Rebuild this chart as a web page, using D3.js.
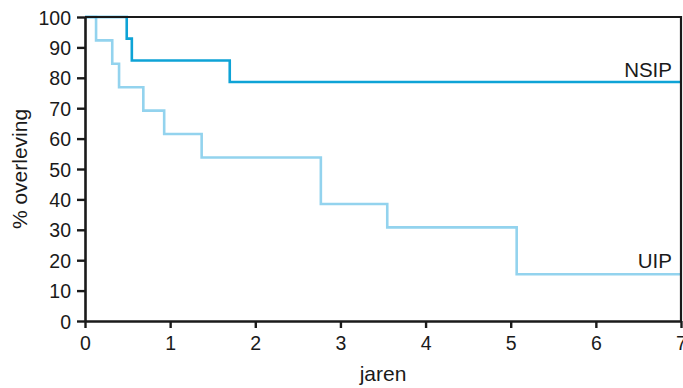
<!DOCTYPE html>
<html>
<head>
<meta charset="utf-8">
<script src="https://cdn.jsdelivr.net/npm/d3@7"></script>
<style>
  body { margin: 0; background: #fff; }
  text { font-family: "Liberation Sans", Arial, sans-serif; fill: #1a1a1a; }
</style>
</head>
<body>
<svg id="chart"></svg>
<script>
// Kaplan-Meier survival (years, % surviving)
const nsipTimes = [0, 0.49, 0.55, 1.70, 7];
const nsipSurv  = [100, 92.9, 85.7, 78.6, 78.6];

const uipTimes = [0, 0.13, 0.32, 0.40, 0.685, 0.93, 1.37, 2.77, 3.55, 5.07, 7];
const uipSurv  = [100, 92.3, 84.6, 76.9, 69.2, 61.5, 53.8, 38.5, 30.8, 15.4, 15.4];

const xTicks = [0, 1, 2, 3, 4, 5, 6, 7];
const yTicks = [0, 10, 20, 30, 40, 50, 60, 70, 80, 90, 100];

const width = 683, height = 388;
const margin = {top: 17, right: 2, bottom: 67, left: 85};
const w = width - margin.left - margin.right;
const h = height - margin.top - margin.bottom;

const svg = d3.select('#chart')
    .attr('width', width)
    .attr('height', height);

const chart = svg.append('g')
    .attr('transform', `translate(${margin.left},${margin.top})`);

const x = d3.scaleLinear().domain([0, 7]).range([0, w]);
const y = d3.scaleLinear().domain([0, 100]).range([h, 0]);

const line = d3.line()
    .x(d => x(d[0]))
    .y(d => y(d[1]))
    .curve(d3.curveStepAfter);

const series = [
  {name: 'UIP', times: uipTimes, surv: uipSurv, color: '#93d3ee'},
  {name: 'NSIP', times: nsipTimes, surv: nsipSurv, color: '#0ea3d6'}
];

series.forEach(s => {
  chart.append('path')
      .datum(d3.zip(s.times, s.surv))
      .attr('fill', 'none')
      .attr('stroke', s.color)
      .attr('stroke-width', 2.6)
      .attr('d', line);
});

// frame on top and right
chart.append('path')
    .attr('d', `M0,${y(100)}H${x(7)}V${y(0)}`)
    .attr('fill', 'none')
    .attr('stroke', '#1a1a1a')
    .attr('stroke-width', 2.2);

const xAxis = d3.axisBottom(x).tickValues(xTicks).tickFormat(d3.format('d'))
    .tickSize(7).tickPadding(8).tickSizeOuter(0);
const yAxis = d3.axisLeft(y).tickValues(yTicks).tickFormat(d3.format('d'))
    .tickSize(8).tickPadding(6).tickSizeOuter(0);

const xg = chart.append('g')
    .attr('transform', `translate(0,${h})`)
    .call(xAxis);
const yg = chart.append('g').call(yAxis);

[xg, yg].forEach(g => {
  g.select('.domain').attr('stroke', '#1a1a1a').attr('stroke-width', 2.6);
  g.selectAll('.tick line').attr('stroke', '#1a1a1a').attr('stroke-width', 2.4);
  g.selectAll('.tick text')
      .attr('font-size', 19.5)
      .attr('font-family', '"Liberation Sans", Arial, sans-serif')
      .attr('fill', '#1a1a1a');
});
yg.selectAll('.tick text').attr('dy', '0.36em');

// series labels
chart.append('text')
    .attr('x', w - 9)
    .attr('y', y(nsipSurv[nsipSurv.length - 1]) - 5)
    .attr('text-anchor', 'end')
    .attr('font-size', 20.5)
    .text('NSIP');

chart.append('text')
    .attr('x', w - 9)
    .attr('y', y(uipSurv[uipSurv.length - 1]) - 6)
    .attr('text-anchor', 'end')
    .attr('font-size', 20.5)
    .text('UIP');

// axis titles
svg.append('text')
    .attr('x', margin.left + w / 2)
    .attr('y', 381)
    .attr('text-anchor', 'middle')
    .attr('font-size', 21)
    .text('jaren');

svg.append('text')
    .attr('transform', `translate(27,${margin.top + h / 2}) rotate(-90)`)
    .attr('text-anchor', 'middle')
    .attr('font-size', 21)
    .text('% overleving');
</script>
</body>
</html>
